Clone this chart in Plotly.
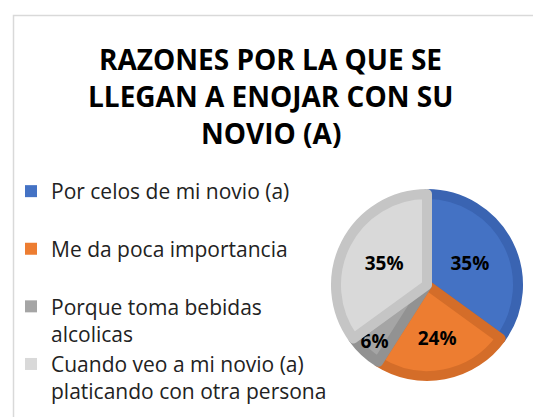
import plotly.graph_objects as go

title_lines = ["RAZONES POR LA QUE SE", "LLEGAN A ENOJAR CON SU", "NOVIO (A)"]
categories = [
    "Por celos de mi novio (a)",
    "Me da poca importancia",
    "Porque toma bebidas<br>alcolicas",
    "Cuando veo a mi novio (a)<br>platicando con otra persona",
]
values = [35, 24, 6, 35]
fill_colors = ["#4472C4", "#ED7D31", "#A5A5A5", "#D9D9D9"]
edge_colors = ["#3A64B2", "#D46D29", "#929292", "#C5C5C5"]
label_templates = ["%{percent}", "<br>%{percent}", "%{percent}", "%{percent}"]

W, H = 541, 417
OFF = 8  # page body margin of the browser


def px(x):
    return (x - OFF) / W


def py(y):
    return 1 - (y - OFF) / H


cx, cy, r = 427, 285, 91

legend_labels = [c if "<br>" in c else c + "<br> " for c in categories]

fig = go.Figure()
# legend-only trace (plain squares without edge stroke)
fig.add_trace(go.Pie(
    labels=legend_labels, values=values, sort=False, direction="clockwise",
    marker=dict(colors=fill_colors, line=dict(width=0)),
    textinfo="none", hoverinfo="skip", showlegend=True,
    domain=dict(x=[0, 0.0001], y=[0, 0.0001]),
))
fig.add_trace(go.Pie(
    labels=legend_labels,
    values=values,
    sort=False,
    direction="clockwise",
    rotation=0,
    marker=dict(colors=fill_colors, line=dict(color=edge_colors, width=10)),
    texttemplate=label_templates,
    textposition="inside",
    insidetextorientation="horizontal",
    textfont=dict(family="Open Sans", size=19, color="black", weight="bold"),
    domain=dict(x=[px(cx - r), px(cx + r)], y=[py(cy + r), py(cy - r)]),
    hoverinfo="label+percent",
    showlegend=False,
))

annotations = []
for line, yc in zip(title_lines, [59, 96, 133]):
    annotations.append(dict(
        text=f"<b>{line}</b>", x=px(270.5), y=py(yc), xref="paper", yref="paper",
        xanchor="center", yanchor="middle", showarrow=False,
        font=dict(family="Open Sans", size=28, color="#000000"),
    ))

fig.update_layout(
    width=W, height=H,
    margin=dict(l=0, r=0, t=0, b=0),
    paper_bgcolor="white", plot_bgcolor="white",
    annotations=annotations,
    uniformtext=dict(minsize=19, mode="show"),
    showlegend=True,
    legend=dict(
        x=px(11), y=py(171), xanchor="left", yanchor="top",
        valign="top",
        font=dict(family="Open Sans", size=21, color="#222222"),
        bgcolor="rgba(0,0,0,0)",
        traceorder="normal",
    ),
    shapes=[dict(type="rect", xref="paper", yref="paper",
                 x0=px(13.5), x1=1.2, y0=py(15.5), y1=-0.2,
                 line=dict(color="#D9D9D9", width=1.5), fillcolor="rgba(0,0,0,0)")],
)

fig.write_html("out.html")
